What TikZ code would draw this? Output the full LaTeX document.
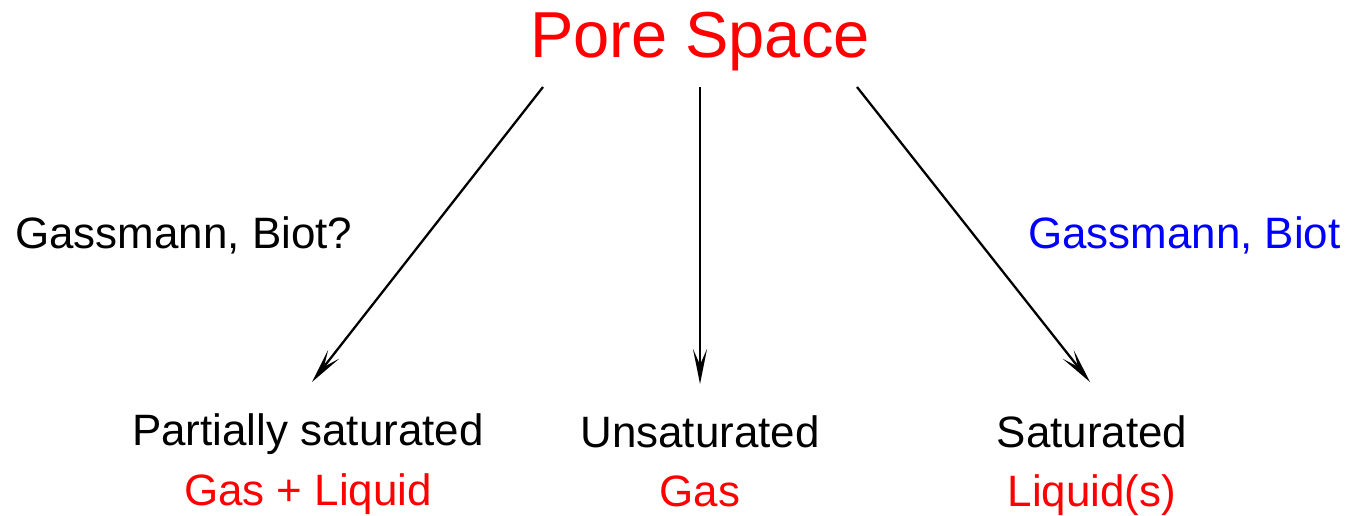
\documentclass[tikz,border=0pt]{standalone}
\usepackage{fontspec}
\setmainfont{Liberation Sans}
\usetikzlibrary{arrows.meta}
\begin{document}
\begin{tikzpicture}[x=0.02cm,y=-0.02cm,
  lbl/.style={inner sep=0pt,anchor=base,font=\fontsize{25}{30}\selectfont},
  title/.style={inner sep=0pt,anchor=base,text=red,font=\fontsize{37}{44}\selectfont},
  conn/.style={line width=1.3pt,-{Stealth[length=20pt,width=8pt,inset=9pt]}}]
\useasboundingbox (0,0) rectangle (1349,515);
\node[title] (pore) at (700,57) {Pore Space};
\node[lbl] (part) at (308,445) {Partially saturated};
\node[lbl,text=red] (gl) at (308,505) {Gas + Liquid};
\node[lbl] (unsat) at (700,447) {Unsaturated};
\node[lbl,text=red] (gas) at (700,506) {Gas};
\node[lbl] (sat) at (1092,447) {Saturated};
\node[lbl,text=red] (liq) at (1092,506) {Liquid(s)};
\node[lbl,anchor=base west] (gb1) at (15,248) {Gassmann, Biot?};
\node[lbl,anchor=base east,text=blue] (gb2) at (1341,248) {Gassmann, Biot};
\coordinate (a1) at (543,87);
\coordinate (b1) at (312,382);
\coordinate (a2) at (700,87);
\coordinate (b2) at (700,384);
\coordinate (a3) at (857,87);
\coordinate (b3) at (1090,382);
\draw[conn] (a1) -- (b1);
\draw[conn] (a2) -- (b2);
\draw[conn] (a3) -- (b3);
\end{tikzpicture}
\end{document}
